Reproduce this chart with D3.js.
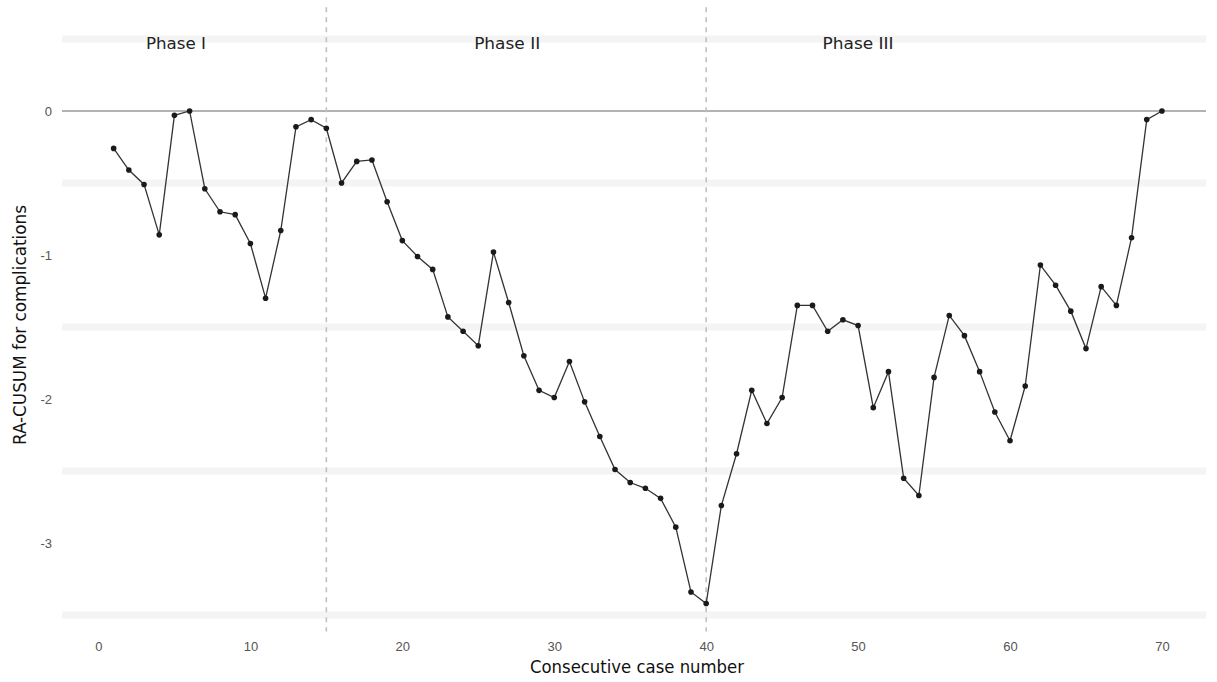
<!DOCTYPE html>
<html>
<head>
<meta charset="utf-8">
<script src="https://cdn.jsdelivr.net/npm/d3@7"></script>
<style>
  html, body { margin: 0; padding: 0; background: #fff; }
  svg { display: block; font-family: "Liberation Sans Narrow", "DejaVu Sans Condensed", "Roboto", sans-serif; font-stretch: condensed; }
</style>
</head>
<body>
<svg id="chart" width="1217" height="682"></svg>
<script>
// ---- data ----
const caseNumbers = d3.range(1, 71);
const cusumValues = [
  -0.26, -0.41, -0.51, -0.86, -0.03, 0.00, -0.54, -0.70, -0.72, -0.92,
  -1.30, -0.83, -0.11, -0.06, -0.12, -0.50, -0.35, -0.34, -0.63, -0.90,
  -1.01, -1.10, -1.43, -1.53, -1.63, -0.98, -1.33, -1.70, -1.94, -1.99,
  -1.74, -2.02, -2.26, -2.49, -2.58, -2.62, -2.69, -2.89, -3.34, -3.42,
  -2.74, -2.38, -1.94, -2.17, -1.99, -1.35, -1.35, -1.53, -1.45, -1.49,
  -2.06, -1.81, -2.55, -2.67, -1.85, -1.42, -1.56, -1.81, -2.09, -2.29,
  -1.91, -1.07, -1.21, -1.39, -1.65, -1.22, -1.35, -0.88, -0.06, 0.00
];
const xTicks = [0, 10, 20, 30, 40, 50, 60, 70];
const yTicks = [0, -1, -2, -3];
const gridValues = [0.5, -0.5, -1.5, -2.5, -3.5];
const phaseBoundaries = [15, 40];
const phaseLabels = ["Phase I", "Phase II", "Phase III"];
const phaseLabelPos = [5.1, 26.9, 50.0];
const phaseLabelY = 0.46;
const xTitle = "Consecutive case number";
const yTitle = "RA-CUSUM for complications";

const points = caseNumbers.map((c, i) => ({ x: c, y: cusumValues[i] }));

// ---- scales ----
const x = d3.scaleLinear().domain([-2.4, 72.9]).range([62, 1206]);
const y = d3.scaleLinear().domain([-3.6, 0.72]).range([629.4, 7.3]);

const svg = d3.select("#chart");

// faint horizontal bands
svg.append("g").selectAll("line").data(gridValues).join("line")
  .attr("x1", x.range()[0]).attr("x2", x.range()[1])
  .attr("y1", d => y(d)).attr("y2", d => y(d))
  .attr("stroke", "#f4f4f4").attr("stroke-width", 7);

// zero line
svg.append("line")
  .attr("x1", x.range()[0]).attr("x2", x.range()[1])
  .attr("y1", y(0)).attr("y2", y(0))
  .attr("stroke", "#9a9a9a").attr("stroke-width", 1.7);

// phase boundaries
svg.append("g").selectAll("line").data(phaseBoundaries).join("line")
  .attr("x1", d => x(d)).attr("x2", d => x(d))
  .attr("y1", y.range()[1]).attr("y2", y.range()[0] + 2)
  .attr("stroke", "#c0c0c0").attr("stroke-width", 1.6)
  .attr("stroke-dasharray", "5,5");

// phase labels
const phaseWidths = [60, 66, 71];
svg.append("g").selectAll("text").data(phaseLabels).join("text")
  .attr("x", (d, i) => x(phaseLabelPos[i]))
  .attr("y", y(phaseLabelY))
  .attr("text-anchor", "middle")
  .attr("dominant-baseline", "middle")
  .attr("font-size", 15)
  .attr("fill", "#222")
  .attr("textLength", (d, i) => phaseWidths[i])
  .attr("lengthAdjust", "spacingAndGlyphs")
  .text(d => d);

// line
svg.append("path").datum(points)
  .attr("fill", "none").attr("stroke", "#333").attr("stroke-width", 1.3)
  .attr("d", d3.line().x(d => x(d.x)).y(d => y(d.y)));

// points
svg.append("g").selectAll("circle").data(points).join("circle")
  .attr("cx", d => x(d.x)).attr("cy", d => y(d.y)).attr("r", 2.8)
  .attr("fill", "#1a1a1a");

// x axis
const xAxis = svg.append("g").attr("transform", `translate(0,${y.range()[0] + 3})`)
  .call(d3.axisBottom(x).tickValues(xTicks).tickSize(0).tickPadding(9));
xAxis.select(".domain").remove();
xAxis.selectAll("text").attr("font-size", 13).attr("fill", "#555")
  .style("font-family", "inherit");

// y axis
const yAxis = svg.append("g").attr("transform", `translate(52,0)`)
  .call(d3.axisLeft(y).tickValues(yTicks).tickSize(0).tickPadding(0)
    .tickFormat(d => d === 0 ? "0" : "-" + Math.abs(d)));
yAxis.select(".domain").remove();
yAxis.selectAll("text").attr("font-size", 13).attr("fill", "#555")
  .style("font-family", "inherit");

// titles
svg.append("text")
  .attr("x", 637).attr("y", 668)
  .attr("text-anchor", "middle").attr("dominant-baseline", "middle")
  .attr("font-size", 18).attr("fill", "#111")
  .attr("textLength", 214).attr("lengthAdjust", "spacingAndGlyphs")
  .text(xTitle);

svg.append("text")
  .attr("transform", `translate(21,${325}) rotate(-90)`)
  .attr("text-anchor", "middle").attr("dominant-baseline", "middle")
  .attr("font-size", 18).attr("fill", "#111")
  .attr("textLength", 240).attr("lengthAdjust", "spacingAndGlyphs")
  .text(yTitle);
</script>
</body>
</html>
